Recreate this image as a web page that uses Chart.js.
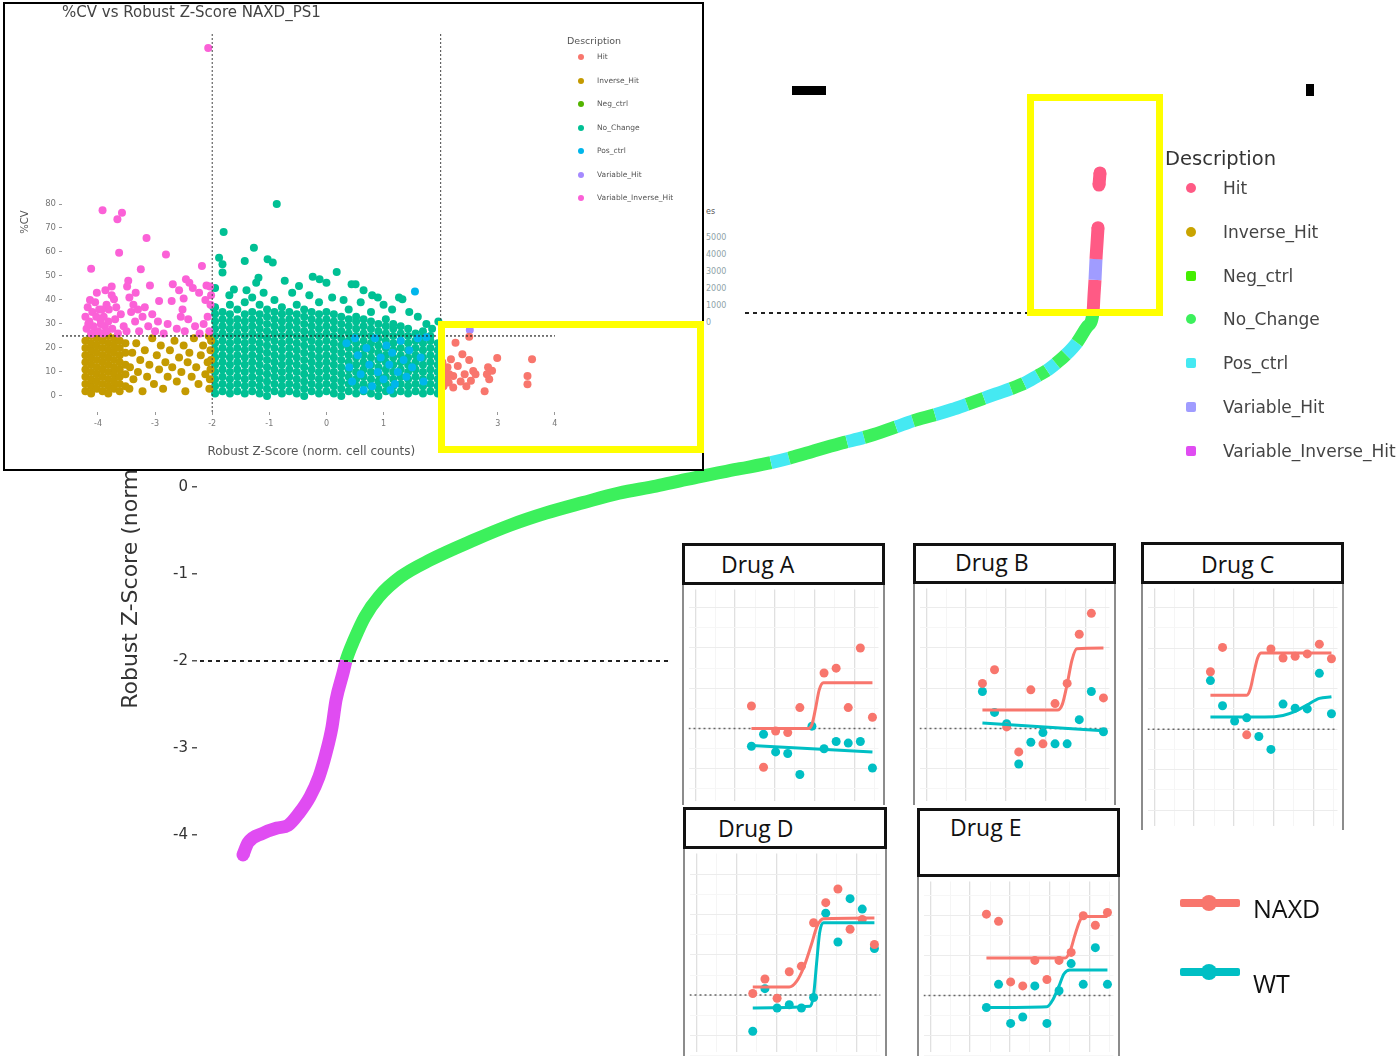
<!DOCTYPE html>
<html>
<head>
<meta charset="utf-8">
<title>Robust Z-Score screen NAXD</title>
<script src="https://cdn.jsdelivr.net/npm/chart.js@4.4.1/dist/chart.umd.min.js"></script>
<style>
html, body { margin: 0; padding: 0; background: #fff; }
body { position: relative; width: 1397px; height: 1056px; overflow: hidden; font-family: 'Open Sans', sans-serif; }
.abs { position: absolute; }
canvas { display: block; }
#inset { left: 3px; top: 2px; width: 697px; height: 465px; border: 2px solid #000; background: #fff; z-index: 3; }
#inset_title { left: 57px; top: -1px; font: 15px 'DejaVu Sans', sans-serif; color: #444; white-space: nowrap; }
.yellow { border: 7px solid #ffff00; box-sizing: border-box; }
.strip { border: 3px solid #111; background: #fff; box-sizing: border-box; font-size: 23px; color: #111; white-space: nowrap; z-index: 2; }
.plot { border-left: 2px solid #8c8c8c; border-right: 2px solid #8c8c8c; box-sizing: border-box; background: #fff; z-index: 2; }
.leg_item { white-space: nowrap; }
.mark { position: absolute; }
</style>
</head>
<body>
<div class="abs" style="left:110px;top:0;z-index:1"><canvas id="main_chart" width="1287" height="1056"></canvas></div>
<div class="abs" style="left:792px;top:86px;width:34px;height:9px;background:#000"></div>
<div class="abs" style="left:1306px;top:84px;width:8px;height:12px;background:#000"></div>
<div class="abs" id="remnant" style="left:706px;top:203px;width:27px;overflow:hidden;font:8px 'DejaVu Sans',sans-serif;color:#8fa3a8;line-height:17px;white-space:nowrap"></div>
<div class="abs yellow" style="left:1027px;top:94px;width:136px;height:222px;z-index:2"></div>
<div class="abs" id="main_legend" style="left:1160px;top:140px;width:237px;height:330px;z-index:2"></div>
<div class="abs" id="inset">
  <canvas id="inset_chart" width="697" height="465"></canvas>
  <div class="abs" id="inset_title">%CV vs Robust Z-Score NAXD_PS1</div>
  <div class="abs" id="inset_legend" style="left:0;top:0"></div>
</div>
<div class="abs yellow" style="left:438px;top:321px;width:266px;height:132px;z-index:4"></div>
<div class="abs" id="dose_legend" style="left:1170px;top:880px;width:220px;height:120px;z-index:2"></div>
<script>
// categories and colours
const categories = ['Hit', 'Inverse_Hit', 'Neg_ctrl', 'No_Change', 'Pos_ctrl', 'Variable_Hit', 'Variable_Inverse_Hit'];
const mainColors = ['#ff5a85', '#c9a400', '#44ee00', '#3cf05c', '#45e9f2', '#a09cff', '#e04cf2'];
const insetColors = ['#f8766d', '#c49a00', '#53b400', '#00c094', '#00b6eb', '#a58aff', '#fb61d7'];
const legendShapes = ['50%', '50%', '2px', '50%', '2px', '2px', '2px'];

// ranked robust z-score curve (rank, z); null breaks the line
const curveRank = [43, 48, 63, 77, 88, 99, 110, 119, 126, 132, 136, 143, 146, 154, 165, 179, 201, 230, 274, 310,
    346, 383, 419, 456, 480, 500, 540, 571, 589, 607, 640, 647, 664, 673, 696, 713, 735, 752, 767, 784,
    796, 811, 824, 838, 847, 856, 866, 877, 887, 893, 894, 895, 896, 897, 898, 898.5, 899, 900];
const curveZ = [-4.23, -4.09, -3.98, -3.92, -3.89, -3.75, -3.56, -3.33, -3.06, -2.76, -2.45, -2.14, -2.00, -1.76, -1.49, -1.26, -1.03, -0.84, -0.61, -0.44,
    -0.30, -0.18, -0.07, 0.01, 0.07, 0.12, 0.21, 0.28, 0.33, 0.39, 0.50, 0.52, 0.57, 0.60, 0.69, 0.76, 0.83, 0.89, 0.95, 1.02,
    1.07, 1.13, 1.19, 1.28, 1.34, 1.42, 1.52, 1.66, 1.84, 2.00, 2.20, 2.38, 2.62, 2.80, 2.98, null, 3.47, 3.61];
const hitCutoffs = [-2, 2];
// rank spans of the curve that belong to other classes
const posCtrlSpans = [[571, 589], [647, 664], [696, 713], [735, 767], [784, 811], [824, 838], [847, 856], [866, 877]];
const varHitSpans = [[895, 896]];
const cutoffLineRanks = [[0, 468], [545, 940]];
const mainYTicks = [-4, -3, -2, -1, 0, 1, 2, 3, 4];

// inset: %CV vs robust z-score, flat x,y pairs
const insetHitXY = [2.26, 22.2, 2.5, 24.7, 2.18, 15.3, 2.38, 17.4, 2.5, 15, 2.3, 12.5, 2.22, 8.3, 2.14, 5.6, 2.22, 3.5, 2.42, 9,
    2.57, 10.4, 2.61, 9, 2.53, 6.3, 2.81, 9, 2.85, 6.9, 2.77, 2, 2.99, 15.8, 3.52, 8.3, 3.52, 4.9, 3.6, 15.3,
    2.08, 10, 2.1, 7, 2.12, 12, 2.05, 4, 2.35, 6, 2.45, 4, 2.9, 10.5, 2.83, 12, 2.03, 14, 2.15, 9];
const insetVarHitXY = [2.51, 27.5];
const insetPosCtrlXY = [0.35, 22, 0.4, 12, 0.45, 6, 0.55, 17, 0.6, 9, 0.7, 20, 0.75, 13, 0.8, 4, 0.85, 24, 0.9, 10,
    0.95, 16, 1.0, 7, 1.05, 21, 1.1, 13, 1.15, 18, 1.2, 5, 1.25, 10, 1.3, 23, 1.35, 15, 1.4, 8,
    1.45, 19, 1.5, 12, 1.55, 43.5, 1.6, 24, 1.65, 16, 1.7, 6, 1.75, 24.5, 0.5, 24, 0.65, 2.5, 1.12, 2.5];
const insetVarInvHitXY = [-2.07, 145, -3.92, 77.4, -3.58, 76.4, -3.66, 73.6, -3.15, 65.8, -3.63, 59.7, -2.81, 59.0, -4.12, 53.0, -3.25, 52.8, -2.18, 54.2,
    -3.47, 48.0, -3.49, 45.6, -3.09, 46.0, -2.69, 46.5, -3.76, 45.6, -2.46, 48.6, -2.40, 47.2, -2.34, 45.0, -2.10, 46.0, -2.04, 45.6,
    -3.76, 42.0, -3.72, 40.3, -2.93, 39.6, -2.71, 39.6, -2.50, 40.6, -2.23, 43.0, -3.87, 44.0, -3.81, 36.0, -3.60, 34.0, -4.20, 28,
    -4.15, 31, -4.10, 35, -4.05, 39, -4.00, 27, -3.95, 30, -3.90, 33, -3.85, 38, -4.18, 37, -4.22, 33, -4.12, 26,
    -4.08, 29, -3.98, 36, -3.92, 26, -3.88, 29, -3.82, 31, -3.75, 28, -3.70, 32, -3.65, 26, -3.55, 29, -3.50, 27,
    -3.42, 35, -3.38, 38, -3.35, 31, -3.30, 36, -3.28, 27, -3.22, 33, -3.18, 37, -3.12, 29, -3.05, 34, -3.00, 27,
    -2.95, 31, -2.85, 26, -2.78, 30, -2.62, 28, -2.55, 33, -2.48, 27, -2.42, 32, -2.30, 29, -2.22, 26, -2.15, 30,
    -2.08, 33, -2.05, 27, -2.03, 38, -2.02, 42, -2.12, 40, -2.58, 44, -2.52, 36, -3.45, 41, -3.34, 43, -4.02, 43,
    -3.96, 32, -4.14, 40, -3.85, 27, -3.68, 37, -4.17, 30, -4.03, 33, -3.93, 36, -4.10, 26];
const insetInvHitCols = [
    [-4.22, [2, 5, 8, 11, 14, 17, 20, 23]],
    [-4.12, [1, 4, 7, 10, 13, 16, 19, 22, 25]],
    [-4.02, [3, 6, 9, 12, 15, 18, 21, 24]],
    [-3.92, [2, 5, 8, 11, 14, 17, 20, 23]],
    [-3.82, [1, 4, 7, 10, 13, 16, 19, 22, 25]],
    [-3.72, [3, 6, 9, 12, 15, 18, 21, 24]],
    [-3.62, [2, 5, 8, 11, 14, 17, 20, 23]],
    [-3.52, [4, 9, 13, 18, 22]]
];
const insetInvHitXY = [-3.45, 3, -3.44, 12, -3.4, 18, -3.38, 7, -3.33, 22, -3.3, 10, -3.26, 15, -3.22, 2, -3.18, 19, -3.14, 8,
    -3.1, 13, -3.05, 24, -3.02, 5, -2.97, 17, -2.93, 11, -2.9, 21, -2.86, 3, -2.82, 14, -2.78, 8, -2.74, 19,
    -2.7, 12, -2.66, 23, -2.62, 6, -2.58, 16, -2.54, 10, -2.5, 21, -2.47, 2, -2.43, 14, -2.4, 18, -2.36, 8,
    -2.32, 24, -2.28, 12, -2.24, 5, -2.2, 17, -2.16, 21, -2.12, 9, -2.08, 14, -2.05, 3, -2.04, 7, -2.03, 11,
    -2.03, 19, -2.02, 23, -2.02, 15, -2.06, 25];
const insetNoChangeCols = [
    [-1.95, [1, 4, 7, 10, 13, 16, 19, 22, 25, 28, 31, 34, 37]],
    [-1.82, [2, 5, 8, 11, 14, 17, 20, 23, 26, 29, 32, 35]],
    [-1.69, [1, 4, 7, 10, 13, 16, 19, 22, 25, 28, 31, 34, 38]],
    [-1.56, [2, 5, 8, 11, 14, 17, 20, 23, 26, 29, 32, 36]],
    [-1.43, [1, 4, 7, 10, 13, 16, 19, 22, 25, 28, 31, 34, 39]],
    [-1.30, [2, 5, 8, 11, 14, 17, 20, 23, 26, 29, 32, 35, 41]],
    [-1.17, [1, 4, 7, 10, 13, 16, 19, 22, 25, 28, 31, 34, 38]],
    [-1.04, [0, 3, 6, 9, 12, 15, 18, 21, 24, 27, 30, 33, 36]],
    [-0.91, [2, 5, 8, 11, 14, 17, 20, 23, 26, 29, 32, 35, 40]],
    [-0.78, [1, 4, 7, 10, 13, 16, 19, 22, 25, 28, 31, 34, 37]],
    [-0.65, [2, 5, 8, 11, 14, 17, 20, 23, 26, 29, 32, 35]],
    [-0.52, [1, 4, 7, 10, 13, 16, 19, 22, 25, 28, 31, 34, 38]],
    [-0.39, [0, 3, 6, 9, 12, 15, 18, 21, 24, 27, 30, 33, 36]],
    [-0.26, [2, 5, 8, 11, 14, 17, 20, 23, 26, 29, 32, 35]],
    [-0.13, [1, 4, 7, 10, 13, 16, 19, 22, 25, 28, 31, 34, 39]],
    [0.00, [2, 5, 8, 11, 14, 17, 20, 23, 26, 29, 32, 35]],
    [0.13, [1, 4, 7, 10, 13, 16, 19, 22, 25, 28, 31, 34]],
    [0.26, [0, 3, 6, 9, 12, 15, 18, 21, 24, 27, 30, 33]],
    [0.39, [2, 5, 8, 11, 14, 17, 20, 23, 26, 29, 32, 36]],
    [0.52, [1, 4, 7, 10, 13, 16, 19, 22, 25, 28, 31, 33]],
    [0.65, [2, 5, 8, 11, 14, 17, 20, 23, 26, 29, 32]],
    [0.78, [1, 4, 7, 10, 13, 16, 19, 22, 25, 28, 31, 35]],
    [0.91, [0, 3, 6, 9, 12, 15, 18, 21, 24, 27, 30]],
    [1.04, [2, 5, 8, 11, 14, 17, 20, 23, 26, 29, 32]],
    [1.17, [1, 4, 7, 10, 13, 16, 19, 22, 25, 28, 30]],
    [1.30, [2, 5, 8, 11, 14, 17, 20, 23, 26, 29]],
    [1.43, [1, 4, 7, 10, 13, 16, 19, 22, 25, 28]],
    [1.56, [2, 5, 8, 11, 14, 17, 20, 23, 26]],
    [1.69, [1, 4, 7, 10, 13, 16, 19, 22, 25, 27]],
    [1.82, [2, 5, 8, 11, 14, 17, 20, 23, 25]],
    [1.95, [1, 4, 7, 10, 13, 16, 19, 22]]
];
const insetNoChangeXY = [-0.87, 80, -1.8, 68.3, -1.27, 61.8, -1.03, 57, -0.94, 55.6, -1.88, 57.6, -1.82, 54.9, -1.43, 56.2, -1.82, 51.4, 0.18, 51.7,
    -0.24, 49.7, -0.12, 48.6, 0, 47.2, -1.19, 49.3, -1.23, 47.2, -1.62, 44.4, 0.44, 46.5, 0.51, 46.5, 1.27, 41, 1.33, 40.3,
    -0.48, 45.8, -0.73, 48, 0.65, 44, 0.8, 42, 0.9, 41, -1.95, 45, -1.4, 44, -0.6, 43, 1.0, 38, 1.45, 35,
    1.6, 33, 1.75, 30, 1.85, 28, 1.96, 31, -1.98, 37, -1.7, 42, 0.3, 40, 0.1, 41, -0.3, 42, -1.1, 43, 1.15, 36, 0.6, 39];
const insetCvCutoff = 25;
const insetXTicks = [-4, -3, -2, -1, 0, 1, 2, 3, 4];
const insetYTicks = [0, 10, 20, 30, 40, 50, 60, 70, 80];
const remnantLabels = ['es', '5000', '4000', '3000', '2000', '1000', '0'];

// dose response panels: dose index 0..10, response relative to baseline 1
const drugNames = ['Drug A', 'Drug B', 'Drug C', 'Drug D', 'Drug E'];
const doseIndex = [0, 1, 2, 3, 4, 5, 6, 7, 8, 9, 10];
const baselineResp = 1;
const naxdResp = [
    [1.28, 0.52, 0.97, 0.95, 1.26, null, 1.69, 1.75, 1.26, 2.00, 1.14],
    [1.56, 1.73, 1.02, 0.71, 1.48, 0.81, 1.31, 1.56, 2.17, 2.43, 1.38],
    [1.71, 2.01, null, 0.93, null, 1.99, 1.88, 1.90, 1.93, 2.05, 1.87],
    [1.02, 1.20, 0.96, 1.29, 1.36, 1.90, 2.15, 2.32, 1.82, 1.94, 1.63],
    [2.02, 1.93, 1.17, 1.12, 1.44, 1.20, 1.44, 1.54, 2.00, 1.88, 2.04]
];
const wtResp = [
    [0.78, 0.93, 0.71, 0.69, 0.43, 1.03, 0.75, 0.84, 0.82, 0.84, 0.51],
    [1.46, 1.20, 1.06, 0.56, 0.83, 0.95, 0.81, 0.81, 1.11, 1.46, 0.96],
    [1.60, 1.29, 1.10, 1.14, 0.91, 0.75, 1.31, 1.26, 1.25, 1.69, 1.19],
    [0.55, 1.08, 0.84, 0.88, 0.84, 0.97, 2.02, 1.66, 2.20, 2.07, 1.58],
    [0.85, 1.14, 0.65, 0.73, 1.12, 0.65, 1.06, 1.40, 1.14, 1.60, 1.14]
];
const naxdFitX = [
    [0, 4.7, 5.0, 5.3, 5.6, 5.95, 10],
    [0, 6.2, 6.6, 7.0, 7.4, 7.8, 10],
    [0, 3.0, 3.3, 3.6, 3.9, 4.2, 10],
    [0, 3.0, 3.6, 4.2, 4.8, 5.3, 5.8, 10],
    [0, 6.5, 6.9, 7.3, 7.7, 8.0, 10]
];
const naxdFitY = [
    [1.00, 1.00, 1.05, 1.25, 1.48, 1.57, 1.57],
    [1.23, 1.23, 1.30, 1.55, 1.85, 1.99, 2.00],
    [1.42, 1.42, 1.50, 1.70, 1.88, 1.94, 1.94],
    [1.10, 1.10, 1.17, 1.35, 1.62, 1.86, 1.95, 1.96],
    [1.47, 1.47, 1.55, 1.75, 1.93, 1.99, 1.99]
];
const wtFitX = [
    [0, 10],
    [0, 10.3],
    [0, 4.5, 6, 7, 8, 9, 10],
    [0, 4.7, 5.0, 5.25, 5.5, 5.8, 10],
    [0, 5.0, 5.5, 6.0, 6.4, 6.9, 10]
];
const wtFitY = [
    [0.79, 0.71],
    [1.07, 0.97],
    [1.15, 1.15, 1.17, 1.22, 1.30, 1.38, 1.40],
    [0.84, 0.86, 1.00, 1.40, 1.78, 1.90, 1.90],
    [0.85, 0.86, 0.95, 1.12, 1.27, 1.32, 1.32]
];
const lineNames = ['NAXD', 'WT'];
const lineColors = ['#f8766d', '#00bfc4'];

// page layout of the panels (pixels) and their visible response range
const panelLayout = [
    {left: 682, top: 543, width: 203, stripH: 42, plotH: 220, textLeft: 36, lineH: 36, yMin: 0.107, yMax: 2.726},
    {left: 913, top: 543, width: 203, stripH: 41, plotH: 221, textLeft: 39, lineH: 33, yMin: 0.107, yMax: 2.738},
    {left: 1141, top: 542, width: 203, stripH: 42, plotH: 246, textLeft: 57, lineH: 38, yMin: -0.19, yMax: 2.738},
    {left: 683, top: 807, width: 204, stripH: 42, plotH: 207, textLeft: 32, lineH: 37, yMin: 0.298, yMax: 2.762},
    {left: 917, top: 808, width: 203, stripH: 69, plotH: 179, textLeft: 30, lineH: 32, yMin: 0.298, yMax: 2.429}
];

Chart.defaults.font.family = "'Open Sans', sans-serif";
Chart.defaults.animation = false;
Chart.defaults.events = [];

function pairs(flat) {
    let out = [];
    for (let i = 0; i < flat.length; i += 2) out.push({x: flat[i], y: flat[i + 1]});
    return out;
}
function zip(xs, ys) {
    return xs.map((x, i) => ({x: x, y: ys[i]}));
}
function fromCols(cols) {
    let out = [];
    cols.forEach(c => c[1].forEach(y => out.push({x: c[0], y: y})));
    return out;
}
function inSpans(spans, a, b) {
    return spans.some(s => a >= s[0] && b <= s[1]);
}
function curveColor(z) {
    if (z <= hitCutoffs[0]) return mainColors[6];
    if (z > hitCutoffs[1]) return mainColors[0];
    return mainColors[3];
}

// main ranked curve
new Chart(document.getElementById('main_chart'), {
    type: 'scatter',
    data: {
        datasets: [
            ...cutoffLineRanks.map((r, i) => ({
                type: 'line',
                data: [{x: r[0], y: hitCutoffs[i]}, {x: r[1], y: hitCutoffs[i]}],
                borderColor: '#222', borderWidth: 2, borderDash: [4, 4], pointRadius: 0
            })),
            {
                type: 'line',
                data: zip(curveRank, curveZ),
                spanGaps: false,
                cubicInterpolationMode: 'monotone',
                borderWidth: 13,
                borderJoinStyle: 'round',
                borderColor: mainColors[3],
                segment: {
                    borderColor: ctx => {
                        let a = ctx.p0.parsed.x, b = ctx.p1.parsed.x;
                        if (ctx.p1.parsed.y <= hitCutoffs[0]) return mainColors[6];
                        if (inSpans(varHitSpans, a, b)) return mainColors[5];
                        if (ctx.p0.parsed.y >= hitCutoffs[1]) return mainColors[0];
                        if (inSpans(posCtrlSpans, a, b)) return mainColors[4];
                        return mainColors[3];
                    }
                },
                pointRadius: ctx => {
                    let i = ctx.dataIndex;
                    let isEnd = i === 0 || i === curveZ.length - 1 || curveZ[i - 1] === null || curveZ[i + 1] === null;
                    return isEnd ? 6.5 : 0;
                },
                pointBorderWidth: 0,
                pointBackgroundColor: ctx => curveColor(curveZ[ctx.dataIndex])
            }
        ]
    },
    options: {
        responsive: false,
        layout: {padding: {left: 4, right: 200, top: 126.8, bottom: 146.2}},
        plugins: {legend: {display: false}, tooltip: {enabled: false}},
        scales: {
            x: {type: 'linear', min: -3, max: 997, display: false},
            y: {
                type: 'linear', min: -4.86, max: 4.14,
                afterBuildTicks: s => { s.ticks = mainYTicks.map(v => ({value: v})); },
                afterFit: s => { s.width = 83; },
                grid: {drawOnChartArea: false, tickLength: 5, color: '#555', lineWidth: 1.5},
                border: {display: false},
                ticks: {color: '#333', padding: 4, font: {family: "'DejaVu Sans', sans-serif", size: 15}},
                title: {display: true, text: 'Robust Z-Score (norm. cell counts)', color: '#333', font: {family: "'DejaVu Sans', sans-serif", size: 22}}
            }
        }
    }
});

// main legend
(function () {
    let box = document.getElementById('main_legend');
    let html = '<div class="abs" style="left:5px;top:5px;font:19.5px \'DejaVu Sans\',sans-serif;color:#333;line-height:28px;white-space:nowrap">Description</div>';
    categories.forEach((c, i) => {
        let cy = 48 + i * 43.8;
        html += '<div class="mark" style="left:26px;top:' + (cy - 5) + 'px;width:10px;height:10px;border-radius:' + legendShapes[i] + ';background:' + mainColors[i] + '"></div>';
        html += '<div class="abs leg_item" style="left:63px;top:' + (cy - 13) + 'px;font:17px \'DejaVu Sans\',sans-serif;color:#444;line-height:26px">' + c + '</div>';
    });
    box.innerHTML = html;
})();

// remnant of a cut legend
(function () {
    let box = document.getElementById('remnant');
    box.innerHTML = remnantLabels.map((t, i) =>
        '<div style="' + (i === 0 ? 'color:#555;margin-bottom:9px' : '') + '">' + t + '</div>').join('');
})();

// inset scatter
let insetLines = [
    {type: 'line', data: [{x: -4.63, y: insetCvCutoff}, {x: 4.0, y: insetCvCutoff}], borderColor: '#222', borderWidth: 1.2, borderDash: [2, 2], pointRadius: 0},
    {type: 'line', data: [{x: hitCutoffs[0], y: -6.7}, {x: hitCutoffs[0], y: 151.7}], borderColor: '#444', borderWidth: 1, borderDash: [2, 2], pointRadius: 0},
    {type: 'line', data: [{x: hitCutoffs[1], y: -6.7}, {x: hitCutoffs[1], y: 151.7}], borderColor: '#444', borderWidth: 1, borderDash: [2, 2], pointRadius: 0}
];
let insetPts = (data, ci) => ({data: data, backgroundColor: insetColors[ci], pointRadius: 4, borderWidth: 0});
new Chart(document.getElementById('inset_chart'), {
    type: 'scatter',
    data: {
        datasets: insetLines.concat([
            insetPts(pairs(insetHitXY), 0),
            insetPts(pairs(insetVarHitXY), 5),
            insetPts(pairs(insetPosCtrlXY), 4),
            insetPts(pairs(insetVarInvHitXY), 6),
            insetPts(fromCols(insetInvHitCols).concat(pairs(insetInvHitXY)), 1),
            insetPts(fromCols(insetNoChangeCols).concat(pairs(insetNoChangeXY)), 3)
        ])
    },
    options: {
        responsive: false,
        layout: {padding: {left: 10, right: 141.4, top: 28, bottom: 0}},
        plugins: {legend: {display: false}, tooltip: {enabled: false}},
        scales: {
            x: {
                type: 'linear', min: -4.63, max: 4.1,
                afterBuildTicks: s => { s.ticks = insetXTicks.map(v => ({value: v})); },
                afterFit: s => { s.height = 57; },
                grid: {drawOnChartArea: false, tickLength: 3, color: '#999'},
                border: {display: false},
                ticks: {color: '#777', padding: 4, font: {family: "'DejaVu Sans', sans-serif", size: 8}},
                title: {display: true, text: 'Robust Z-Score (norm. cell counts)', color: '#555', padding: {top: 2, bottom: 10}, font: {family: "'DejaVu Sans', sans-serif", size: 12}}
            },
            y: {
                type: 'linear', min: -6.7, max: 151.7,
                afterBuildTicks: s => { s.ticks = insetYTicks.map(v => ({value: v})); },
                afterFit: s => { s.width = 47; },
                grid: {drawOnChartArea: false, tickLength: 3, color: '#999'},
                border: {display: false},
                ticks: {color: '#777', padding: 3, font: {family: "'DejaVu Sans', sans-serif", size: 8.5}},
                title: {display: true, text: '%CV', color: '#555', font: {family: "'DejaVu Sans', sans-serif", size: 10}}
            }
        }
    }
});

// inset legend
(function () {
    let box = document.getElementById('inset_legend');
    let html = '<div class="abs" style="left:562px;top:31px;font:9.5px \'DejaVu Sans\',sans-serif;color:#555;white-space:nowrap">Description</div>';
    categories.forEach((c, i) => {
        let cy = 53 + i * 23.5;
        html += '<div class="mark" style="left:573px;top:' + (cy - 3) + 'px;width:6px;height:6px;border-radius:50%;background:' + insetColors[i] + '"></div>';
        html += '<div class="abs leg_item" style="left:592px;top:' + (cy - 6) + 'px;font:7.5px \'DejaVu Sans\',sans-serif;color:#555;line-height:12px">' + c + '</div>';
    });
    box.innerHTML = html;
})();

// dose response panels
panelLayout.forEach(function (p, i) {
    let strip = document.createElement('div');
    strip.className = 'abs strip';
    strip.style.cssText = 'left:' + p.left + 'px;top:' + p.top + 'px;width:' + p.width + 'px;height:' + p.stripH +
        'px;padding-left:' + p.textLeft + 'px;line-height:' + p.lineH + 'px';
    strip.textContent = drugNames[i];
    document.body.appendChild(strip);

    let plot = document.createElement('div');
    plot.className = 'abs plot';
    plot.style.cssText = 'left:' + p.left + 'px;top:' + (p.top + p.stripH) + 'px;width:' + p.width + 'px;height:' + p.plotH + 'px';
    let cv = document.createElement('canvas');
    cv.width = p.width - 4;
    cv.height = p.plotH;
    plot.appendChild(cv);
    document.body.appendChild(plot);

    new Chart(cv, {
        type: 'scatter',
        data: {
            datasets: [
                {type: 'line', data: zip(naxdFitX[i], naxdFitY[i]), borderColor: lineColors[0], borderWidth: 3, pointRadius: 0, cubicInterpolationMode: 'monotone'},
                {type: 'line', data: zip(wtFitX[i], wtFitY[i]), borderColor: lineColors[1], borderWidth: 3, pointRadius: 0, cubicInterpolationMode: 'monotone'},
                {data: zip(doseIndex, naxdResp[i]), backgroundColor: lineColors[0], pointRadius: 4.5, borderWidth: 0},
                {data: zip(doseIndex, wtResp[i]), backgroundColor: lineColors[1], pointRadius: 4.5, borderWidth: 0},
                {type: 'line', data: [{x: -5.2, y: baselineResp}, {x: 10.5, y: baselineResp}], borderColor: '#666', borderWidth: 1.5, borderDash: [2, 3], pointRadius: 0}
            ]
        },
        options: {
            responsive: false,
            layout: {padding: 0},
            plugins: {legend: {display: false}, tooltip: {enabled: false}},
            scales: {
                x: {
                    type: 'linear', min: -5.2, max: 10.5,
                    afterBuildTicks: s => { s.ticks = [-4.65, -3, -1.35, 0.3, 1.95, 3.6, 5.25, 6.9, 8.55, 10.2].map(v => ({value: v})); },
                    afterFit: s => { s.height = 0; },
                    grid: {drawTicks: false, color: ctx => ctx.index % 2 === 0 ? '#e0e0e0' : '#f2f2f2', lineWidth: ctx => ctx.index % 2 === 0 ? 1.3 : 0.8},
                    border: {display: false},
                    ticks: {display: false}
                },
                y: {
                    type: 'linear', min: p.yMin, max: p.yMax,
                    afterBuildTicks: s => { s.ticks = [0, 0.25, 0.5, 0.75, 1, 1.25, 1.5, 1.75, 2, 2.25, 2.5].map(v => ({value: v})); },
                    afterFit: s => { s.width = 0; },
                    grid: {drawTicks: false, color: ctx => ctx.index % 2 === 0 ? '#ececec' : '#f6f6f6', lineWidth: 1},
                    border: {display: false},
                    ticks: {display: false}
                }
            }
        }
    });
});

// NAXD / WT legend
(function () {
    let box = document.getElementById('dose_legend');
    let html = '';
    lineNames.forEach((n, i) => {
        let cy = 23 + i * 69;
        html += '<div class="mark" style="left:10px;top:' + (cy - 4) + 'px;width:60px;height:8px;border-radius:2px;background:' + lineColors[i] + '"></div>';
        html += '<div class="mark" style="left:31px;top:' + (cy - 8) + 'px;width:16px;height:16px;border-radius:50%;background:' + lineColors[i] + '"></div>';
        html += '<div class="abs leg_item" style="left:83px;top:' + (cy - 15 + i * 6) + 'px;font-size:25px;color:#111;line-height:40px">' + n + '</div>';
    });
    box.innerHTML = html;
})();
</script>
</body>
</html>
